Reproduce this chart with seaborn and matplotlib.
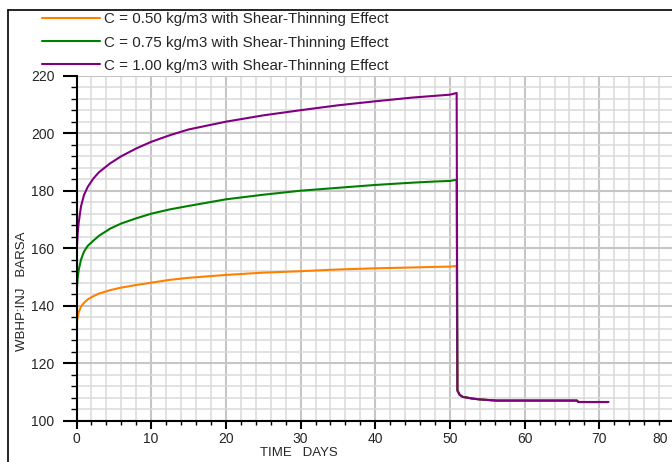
from matplotlib import pyplot as plt
from matplotlib.lines import Line2D
from matplotlib.ticker import MultipleLocator, FuncFormatter
import numpy as np
import pandas as pd
import seaborn as sns

# injection period (days) and bottom-hole pressure (barsa) per polymer concentration
t_inj = [0, 0.05, 0.15, 0.3, 0.6, 1, 1.5, 2.25, 3, 4.5, 6, 8, 10, 12.5, 15,
         20, 25, 30, 35, 40, 45, 48, 50, 50.9]
p_050 = [131, 134, 136, 137.8, 139.7, 141, 142.2, 143.3, 144.2, 145.4, 146.3, 147.2, 148, 149, 149.7,
         150.7, 151.5, 152, 152.6, 153, 153.3, 153.5, 153.6, 153.8]
p_075 = [141.5, 146, 149.5, 152.5, 156, 158.8, 160.8, 162.6, 164.3, 166.8, 168.6, 170.4, 172, 173.5, 174.7,
         177, 178.6, 180, 181, 182, 182.8, 183.2, 183.4, 183.8]
p_100 = [153.5, 160, 165, 169, 174.5, 178.5, 181.3, 184.2, 186.4, 189.5, 192, 194.7, 197, 199.3, 201.3,
         204, 206.2, 208, 209.7, 211.1, 212.4, 213, 213.4, 214]

# shut-in fall-off, identical for all three cases
t_shut = [51.0, 51.3, 51.7, 53, 54, 56.2, 67, 67.2, 71.2]
p_shut = [110.5, 109, 108.3, 107.7, 107.4, 107, 107, 106.5, 106.5]

labels = ['C = 0.50 kg/m3 with Shear-Thinning Effect',
          'C = 0.75 kg/m3 with Shear-Thinning Effect',
          'C = 1.00 kg/m3 with Shear-Thinning Effect']
colors = ['#ff8000', '#008000', '#800080']

rows = []
for lab, p in zip(labels, [p_050, p_075, p_100]):
    for t, v in zip(t_inj + t_shut, p + p_shut):
        rows.append((t, v, lab))
df = pd.DataFrame(rows, columns=['time', 'wbhp', 'case'])

sns.set_theme(style='white')
plt.rcParams['font.family'] = ['Liberation Sans', 'DejaVu Sans']

fig = plt.figure(figsize=(6.72, 4.62), dpi=100)
W, H = 672.0, 462.0
ax = fig.add_axes([76.5 / W, 1 - 420.7 / H, 597.5 / W, 345 / H])

sns.lineplot(data=df, x='time', y='wbhp', hue='case', palette=colors,
             estimator=None, sort=False, linewidth=1.5, ax=ax)

ax.set_xlim(0, 80)
ax.set_ylim(100, 220)
ax.xaxis.set_major_locator(MultipleLocator(10))
ax.xaxis.set_minor_locator(MultipleLocator(2))
ax.yaxis.set_major_locator(MultipleLocator(20))
ax.yaxis.set_minor_locator(MultipleLocator(4))
# last x label is drawn separately so it stays inside the picture
ax.xaxis.set_major_formatter(FuncFormatter(lambda v, pos: '' if v >= 80 else '%d' % v))
ax.grid(which='minor', color='#dadada', linewidth=1.1)
ax.grid(which='major', color='#c6c6c6', linewidth=1.5)
ax.set_axisbelow(True)

for s in ['top', 'right']:
    ax.spines[s].set_visible(False)
for s in ['left', 'bottom']:
    ax.spines[s].set_color('black')
    ax.spines[s].set_linewidth(1.5)

ax.tick_params(axis='y', which='major', length=10, width=1.5, color='black',
               direction='out', left=True, labelsize=10, pad=6)
ax.tick_params(axis='y', which='minor', length=4.5, width=1, color='black',
               direction='out', left=True)
ax.tick_params(axis='x', which='major', length=6, width=1.5, color='black',
               direction='out', bottom=True, labelsize=10, pad=2)
ax.tick_params(axis='x', which='minor', length=3, width=1, color='black',
               direction='out', bottom=True)
ax.set_xlabel('')
ax.set_ylabel('')
ax.annotate('80', xy=(80, 100), xycoords='data', xytext=(-10, -8),
            textcoords='offset points', ha='center', va='top', fontsize=10,
            annotation_clip=False)

handles, labs = ax.get_legend_handles_labels()
ax.get_legend().remove()
fig.legend(handles, labs, loc='upper left', bbox_to_anchor=(42 / W, 1 - 12.5 / H),
           frameon=False, fontsize=10.9, handlelength=3.85, handletextpad=0.27,
           labelspacing=0.6, borderpad=0, borderaxespad=0)

fig.text(22 / W, 1 - 291 / H, 'WBHP:INJ   BARSA', rotation=90, ha='center',
         va='center', fontsize=9.5)
fig.text(299 / W, 1 - 453 / H, 'TIME   DAYS', ha='center', va='center', fontsize=9.5)

# outer frame
fig.add_artist(Line2D([8 / W, 1.0], [1 - 10 / H, 1 - 10 / H], color='black', linewidth=1.2))
fig.add_artist(Line2D([8 / W, 8 / W], [0, 1 - 10 / H], color='black', linewidth=1.2))

fig.savefig('out.png', dpi=100)
